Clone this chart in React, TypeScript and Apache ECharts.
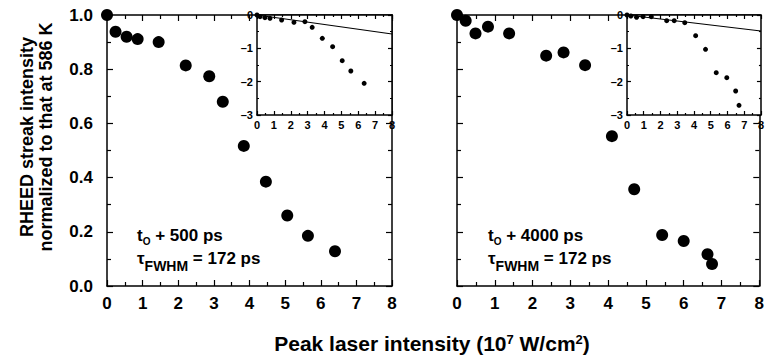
import React, { useEffect, useRef } from 'react';
import * as echarts from 'echarts';

const FONT = "'Liberation Sans', Arial, Helvetica, sans-serif";

// Main panels
const leftX = [0, 0.24, 0.55, 0.86, 1.45, 2.21, 2.87, 3.25, 3.84, 4.46, 5.06, 5.64, 6.4];
const leftY = [1.0, 0.938, 0.92, 0.911, 0.9, 0.814, 0.774, 0.68, 0.517, 0.385, 0.26, 0.185, 0.128];
const rightX = [0, 0.23, 0.49, 0.82, 1.38, 2.36, 2.82, 3.39, 4.1, 4.69, 5.43, 6.0, 6.63, 6.75];
const rightY = [1.0, 0.979, 0.932, 0.957, 0.932, 0.85, 0.862, 0.815, 0.553, 0.357, 0.188, 0.166, 0.117, 0.081];

// Insets (log scale)
const leftInsetX = [0, 0.18, 0.47, 0.77, 1.46, 2.19, 2.84, 3.27, 3.87, 4.48, 5.05, 5.56, 6.35];
const leftInsetY = [0, -0.05, -0.08, -0.1, -0.15, -0.22, -0.2, -0.37, -0.7, -0.95, -1.37, -1.68, -2.05];
const rightInsetX = [0, 0.23, 0.57, 0.96, 1.45, 2.37, 2.82, 3.45, 4.1, 4.69, 5.33, 5.96, 6.49, 6.69];
const rightInsetY = [0, -0.03, -0.07, -0.05, -0.05, -0.17, -0.17, -0.23, -0.62, -1.03, -1.73, -1.88, -2.28, -2.71];
const leftFitX = [0, 8];
const leftFitY = [0, -0.57];
const rightFitX = [0, 8];
const rightFitY = [0, -0.48];

const mainYTicks = ['0.0', '0.2', '0.4', '0.6', '0.8', '1.0'];
const insetYTicks = ['–3', '–2', '–1', '0'];

const zip = (xs: number[], ys: number[]) => xs.map((x, i) => [x, ys[i]]);

function axis(kind: 'x' | 'y', opts: any) {
  const { gridIndex, position, min, max, interval, tickLen, minorLen, labels, fontSize, margin, formatter, z } = opts;
  return {
    type: 'value',
    gridIndex,
    position,
    min,
    max,
    interval,
    z: z ?? 0,
    axisLine: { show: true, onZero: false, lineStyle: { color: '#000', width: 1.5 } },
    axisTick: { show: true, inside: true, length: tickLen, lineStyle: { color: '#000', width: 1.2 } },
    minorTick: { show: true, splitNumber: 2, length: minorLen, lineStyle: { color: '#000', width: 1.2 } },
    splitLine: { show: false },
    minorSplitLine: { show: false },
    axisLabel: {
      show: !!labels,
      color: '#000',
      fontFamily: FONT,
      fontWeight: 'bold',
      fontSize,
      margin,
      formatter,
    },
  };
}

export default function App() {
  const ref = useRef<HTMLDivElement>(null);
  useEffect(() => {
    if (!ref.current) return;
    const chart = echarts.init(ref.current, undefined, { renderer: 'svg' });

    const mainFmt = (v: number) => mainYTicks[Math.round(v / 0.2)] ?? '';
    const insetFmt = (v: number) => insetYTicks[Math.round(v + 3)] ?? '';

    const main = { tickLen: 6, minorLen: 4, fontSize: 17 };
    const ins = { tickLen: 4, minorLen: 2, fontSize: 11, z: 6 };

    const xAxis = [
      axis('x', { ...main, gridIndex: 0, position: 'bottom', min: 0, max: 8, interval: 1, labels: true, margin: 9 }),
      axis('x', { ...main, gridIndex: 0, position: 'top', min: 0, max: 8, interval: 1 }),
      axis('x', { ...main, gridIndex: 1, position: 'bottom', min: 0, max: 8, interval: 1, labels: true, margin: 9 }),
      axis('x', { ...main, gridIndex: 1, position: 'top', min: 0, max: 8, interval: 1 }),
      axis('x', { ...ins, gridIndex: 2, position: 'bottom', min: 0, max: 8, interval: 1, labels: true, margin: 4 }),
      axis('x', { ...ins, gridIndex: 2, position: 'top', min: 0, max: 8, interval: 1 }),
      axis('x', { ...ins, gridIndex: 3, position: 'bottom', min: 0, max: 8, interval: 1, labels: true, margin: 4 }),
      axis('x', { ...ins, gridIndex: 3, position: 'top', min: 0, max: 8, interval: 1 }),
    ];
    const yAxis = [
      axis('y', { ...main, gridIndex: 0, position: 'left', min: 0, max: 1, interval: 0.2, labels: true, margin: 14, formatter: mainFmt }),
      axis('y', { ...main, gridIndex: 0, position: 'right', min: 0, max: 1, interval: 0.2 }),
      axis('y', { ...main, gridIndex: 1, position: 'left', min: 0, max: 1, interval: 0.2 }),
      axis('y', { ...main, gridIndex: 1, position: 'right', min: 0, max: 1, interval: 0.2 }),
      axis('y', { ...ins, gridIndex: 2, position: 'left', min: -3, max: 0, interval: 1, labels: true, margin: 4, formatter: insetFmt }),
      axis('y', { ...ins, gridIndex: 2, position: 'right', min: -3, max: 0, interval: 1 }),
      axis('y', { ...ins, gridIndex: 3, position: 'left', min: -3, max: 0, interval: 1, labels: true, margin: 4, formatter: insetFmt }),
      axis('y', { ...ins, gridIndex: 3, position: 'right', min: -3, max: 0, interval: 1 }),
    ];

    const bold = { fontFamily: FONT, fontWeight: 'bold', fill: '#000' };

    const annotation = (x: number, y: number, label: string) => [
      {
        type: 'text',
        x,
        y,
        z: 10,
        style: {
          text: `{m|t}{s|O}{m| + ${label}}`,
          align: 'left',
          verticalAlign: 'middle',
          textAlign: 'left',
          textVerticalAlign: 'middle',
          rich: {
            m: { ...bold, fontSize: 17, lineHeight: 22 },
            s: { ...bold, fontSize: 10, lineHeight: 10, verticalAlign: 'bottom' },
          },
          ...bold,
        },
      },
      {
        type: 'text',
        x,
        y: y + 23,
        z: 10,
        style: {
          text: '{m|τ}{f|FWHM}{m| = 172 ps}',
          align: 'left',
          verticalAlign: 'middle',
          textAlign: 'left',
          textVerticalAlign: 'middle',
          rich: {
            m: { ...bold, fontSize: 17, lineHeight: 30 },
            f: { ...bold, fontSize: 14, lineHeight: 14, verticalAlign: 'bottom' },
          },
          ...bold,
        },
      },
    ];

    const dot = { color: '#000', opacity: 1 };

    chart.setOption({
      animation: false,
      backgroundColor: '#fff',
      grid: [
        { left: 107, top: 15, width: 285, height: 271, show: false },
        { left: 457, top: 15, width: 306, height: 271, show: false },
        { left: 257, top: 15, width: 135, height: 100, show: true, backgroundColor: '#fff', borderWidth: 0, z: 5 },
        { left: 627, top: 15, width: 136, height: 100, show: true, backgroundColor: '#fff', borderWidth: 0, z: 5 },
      ],
      xAxis,
      yAxis,
      series: [
        { type: 'scatter', xAxisIndex: 0, yAxisIndex: 0, data: zip(leftX, leftY), symbolSize: 12, itemStyle: dot, z: 2 },
        { type: 'scatter', xAxisIndex: 2, yAxisIndex: 2, data: zip(rightX, rightY), symbolSize: 12, itemStyle: dot, z: 2 },
        { type: 'line', xAxisIndex: 4, yAxisIndex: 4, data: zip(leftFitX, leftFitY), showSymbol: false, symbol: 'none', lineStyle: { color: '#000', width: 1.2 }, z: 7 },
        { type: 'scatter', xAxisIndex: 4, yAxisIndex: 4, data: zip(leftInsetX, leftInsetY), symbolSize: 5, itemStyle: dot, z: 8 },
        { type: 'line', xAxisIndex: 6, yAxisIndex: 6, data: zip(rightFitX, rightFitY), showSymbol: false, symbol: 'none', lineStyle: { color: '#000', width: 1.2 }, z: 7 },
        { type: 'scatter', xAxisIndex: 6, yAxisIndex: 6, data: zip(rightInsetX, rightInsetY), symbolSize: 5, itemStyle: dot, z: 8 },
      ],
      graphic: [
        {
          type: 'text',
          x: 36,
          y: 137,
          rotation: Math.PI / 2,
          style: {
            text: 'RHEED streak intensity\nnormalized to that at 586 K',
            ...bold,
            fontSize: 18,
            lineHeight: 19,
            align: 'center',
            verticalAlign: 'middle',
            textAlign: 'center',
            textVerticalAlign: 'middle',
          },
        },
        {
          type: 'text',
          x: 432,
          y: 343,
          style: {
            text: '{m|Peak laser intensity (10}{p|7}{m| W/cm}{p|2}{m|)}',
            align: 'center',
            verticalAlign: 'middle',
            textAlign: 'center',
            textVerticalAlign: 'middle',
            rich: {
              m: { ...bold, fontSize: 21, lineHeight: 21 },
              p: { ...bold, fontSize: 13, lineHeight: 13, verticalAlign: 'top' },
            },
            ...bold,
          },
        },
        ...annotation(137, 235, '500 ps'),
        ...annotation(488, 235, '4000 ps'),
      ],
    });
    return () => chart.dispose();
  }, []);
  return <div ref={ref} style={{ position: 'fixed', left: 0, top: 0, width: 767, height: 358 }} />;
}
